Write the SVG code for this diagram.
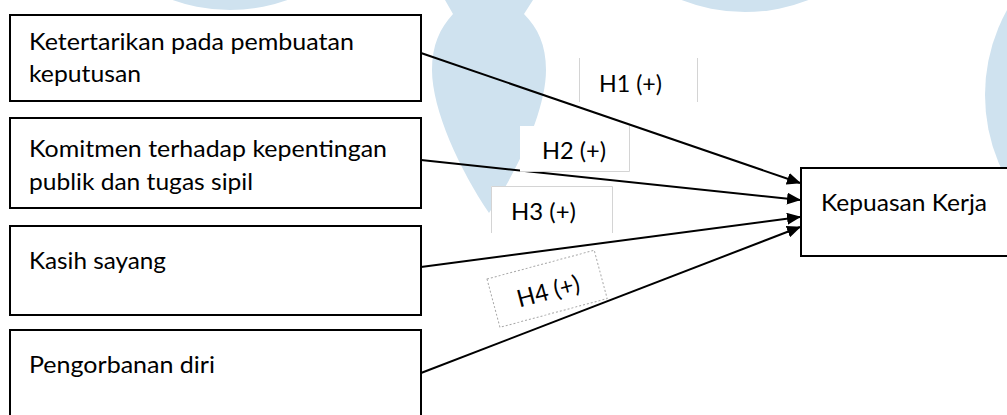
<svg xmlns="http://www.w3.org/2000/svg" width="1007" height="415" viewBox="0 0 1007 415">
  <defs>
    <style>
      .node rect { fill: #ffffff; stroke: #000000; stroke-width: 2; }
      .lbl { font-family: Lato, "Open Sans", "Liberation Sans", sans-serif; font-size: 24px; fill: #000000; }
      .conn { stroke: #000000; stroke-width: 2; fill: none; marker-end: url(#arrow); }
      .wm { fill: #cfe2ef; }
      .tb { fill: #ffffff; stroke: none; }
      .tbe { stroke: #d4d4d4; stroke-width: 1; fill: none; }
    </style>
    <marker id="arrow" viewBox="0 0 14 12" refX="13" refY="6" markerWidth="14" markerHeight="12" markerUnits="userSpaceOnUse" orient="auto">
      <path d="M0,0 L14,6 L0,12 Z" fill="#000000"/>
    </marker>
  </defs>

  <rect width="1007" height="415" fill="#ffffff"/>

  <!-- watermark -->
  <g id="watermark">
    <circle class="wm" cx="230" cy="-160" r="170"/>
    <circle class="wm" cx="745" cy="-162" r="174"/>
    <circle class="wm" cx="1160" cy="95" r="175"/>
    <path class="wm" d="M445,0 L453,14 C440,28 432,45 432,70 C432,110 460,170 489,213 C518,170 546,110 546,70 C546,45 538,28 524,14 L533,0 Z"/>
  </g>

  <!-- connectors -->
  <g id="connectors">
    <line class="conn" x1="421" y1="53" x2="800" y2="183"/>
    <line class="conn" x1="421" y1="160" x2="800" y2="200"/>
    <line class="conn" x1="421" y1="267" x2="800" y2="217"/>
    <line class="conn" x1="421" y1="373" x2="800" y2="227"/>
  </g>

  <!-- hypothesis labels -->
  <g id="label-h1">
    <rect class="tb" x="579" y="58" width="118" height="44"/>
    <line class="tbe" x1="579.5" y1="58" x2="579.5" y2="102"/>
    <line class="tbe" x1="697.5" y1="58" x2="697.5" y2="102"/>
    <text class="lbl" x="599" y="92" textLength="63" lengthAdjust="spacingAndGlyphs">H1 (+)</text>
  </g>
  <g id="label-h2">
    <rect class="tb" x="520" y="126" width="109" height="45"/>
    <polyline class="tbe" points="520,171.5 629.5,171.5 629.5,126"/>
    <text class="lbl" x="542" y="159" textLength="64" lengthAdjust="spacingAndGlyphs">H2 (+)</text>
  </g>
  <g id="label-h3">
    <rect class="tb" x="491" y="186" width="121" height="47"/>
    <polyline class="tbe" points="491.5,233 491.5,186.5 612.5,186.5 612.5,233"/>
    <text class="lbl" x="511" y="220" textLength="65" lengthAdjust="spacingAndGlyphs">H3 (+)</text>
  </g>
  <g id="label-h4" transform="translate(487,279) rotate(-15)">
    <rect x="0" y="0" width="111" height="50" fill="none" stroke="#a8a8a8" stroke-width="1" stroke-dasharray="2,2"/>
    <text class="lbl" x="24" y="36" textLength="64" lengthAdjust="spacingAndGlyphs">H4 (+)</text>
  </g>

  <!-- nodes -->
  <g id="node-ketertarikan" class="node">
    <rect x="10" y="15" width="411" height="86"/>
    <text class="lbl" x="29" y="50" textLength="325" lengthAdjust="spacingAndGlyphs">Ketertarikan pada pembuatan</text>
    <text class="lbl" x="29" y="82" textLength="112" lengthAdjust="spacingAndGlyphs">keputusan</text>
  </g>
  <g id="node-komitmen" class="node">
    <rect x="10" y="118" width="411" height="90"/>
    <text class="lbl" x="29" y="157" textLength="358" lengthAdjust="spacingAndGlyphs">Komitmen terhadap kepentingan</text>
    <text class="lbl" x="29" y="190" textLength="224" lengthAdjust="spacingAndGlyphs">publik dan tugas sipil</text>
  </g>
  <g id="node-kasih" class="node">
    <rect x="10" y="226" width="411" height="89"/>
    <text class="lbl" x="29" y="269" textLength="137" lengthAdjust="spacingAndGlyphs">Kasih sayang</text>
  </g>
  <g id="node-pengorbanan" class="node">
    <rect x="10" y="330" width="411" height="95"/>
    <text class="lbl" x="29" y="373" textLength="186" lengthAdjust="spacingAndGlyphs">Pengorbanan diri</text>
  </g>
  <g id="node-kepuasan" class="node">
    <rect x="801" y="168" width="220" height="88"/>
    <text class="lbl" x="821" y="211" textLength="166" lengthAdjust="spacingAndGlyphs">Kepuasan Kerja</text>
  </g>
</svg>
